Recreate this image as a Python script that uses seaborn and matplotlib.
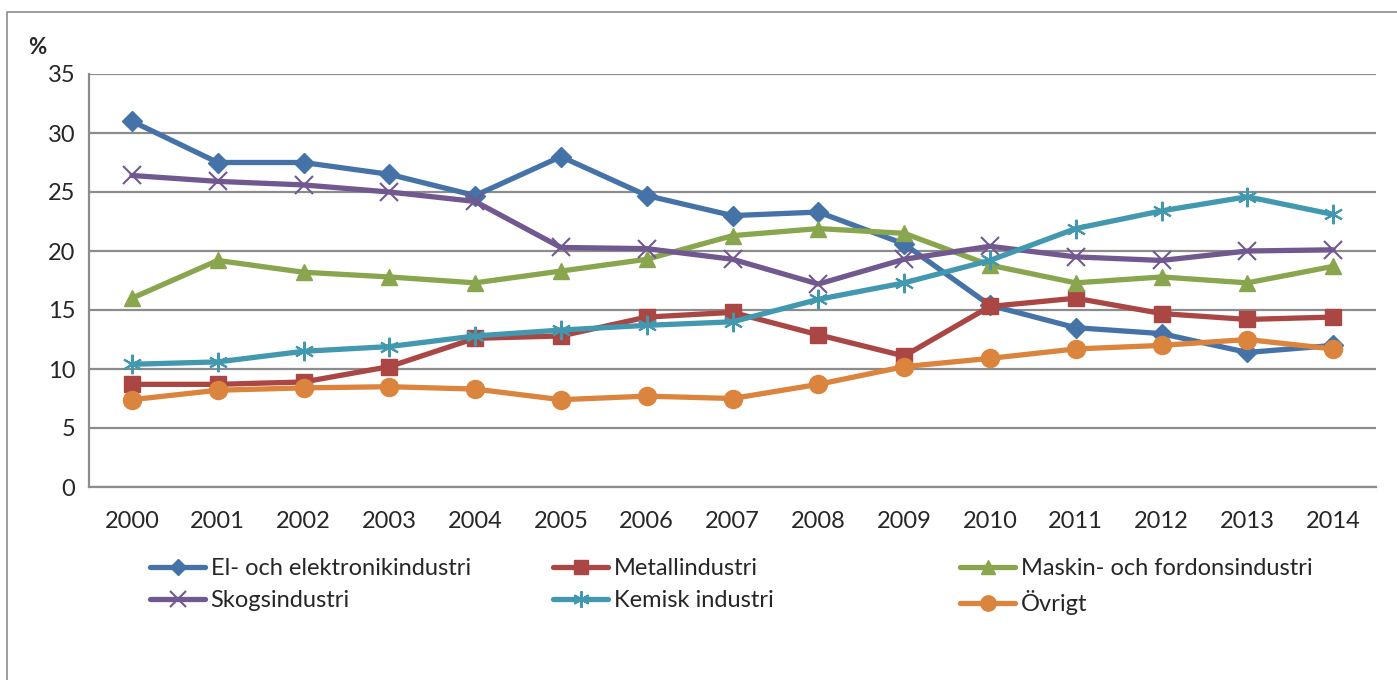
import numpy as np
import pandas as pd
import matplotlib
matplotlib.use("Agg")
import matplotlib.pyplot as plt
from matplotlib.patches import Rectangle
import seaborn as sns

# data (%)
years = [2000, 2001, 2002, 2003, 2004, 2005, 2006, 2007, 2008, 2009, 2010, 2011, 2012, 2013, 2014]
el = [31.0, 27.5, 27.5, 26.5, 24.7, 28.0, 24.7, 23.0, 23.3, 20.6, 15.4, 13.5, 13.0, 11.4, 12.0]
metall = [8.7, 8.7, 8.9, 10.2, 12.6, 12.8, 14.4, 14.8, 12.9, 11.1, 15.3, 16.0, 14.7, 14.2, 14.4]
maskin = [16.0, 19.2, 18.2, 17.8, 17.3, 18.3, 19.3, 21.3, 21.9, 21.5, 18.8, 17.3, 17.8, 17.3, 18.7]
skog = [26.4, 25.9, 25.6, 25.0, 24.2, 20.3, 20.2, 19.3, 17.2, 19.3, 20.4, 19.5, 19.2, 20.0, 20.1]
kemisk = [10.4, 10.6, 11.5, 11.9, 12.8, 13.3, 13.7, 14.0, 15.9, 17.3, 19.2, 21.9, 23.4, 24.6, 23.1]
ovrigt = [7.4, 8.2, 8.4, 8.5, 8.3, 7.4, 7.7, 7.5, 8.7, 10.2, 10.9, 11.7, 12.0, 12.5, 11.7]

names = ["El- och elektronikindustri", "Metallindustri", "Maskin- och fordonsindustri",
         "Skogsindustri", "Kemisk industri", "Övrigt"]
series = [el, metall, maskin, skog, kemisk, ovrigt]
colors = ["#4572A7", "#AA4643", "#89A54E", "#71588F", "#4198AF", "#DB843D"]
markers = ["D", "s", "^", "x", (6, 2, 0), "o"]
msizes = [10, 12, 12, 13, 14, 13]

rows = []
for n, s in zip(names, series):
    for i, v in enumerate(s):
        rows.append({"pos": i, "serie": n, "varde": v})
df = pd.DataFrame(rows)

sns.set_style("white")
plt.rcParams['font.family'] = ['Lato', 'DejaVu Sans']

fig = plt.figure(figsize=(13.97, 6.8), dpi=100)
ax = fig.add_axes([89/1397, 1 - 487/680, (1376 - 89)/1397, (487 - 74)/680])

# chart border like the Excel frame
fig.patches.append(Rectangle((7/1397, -0.1), 1.2, 1 - 12/680 + 0.1, transform=fig.transFigure,
                             fill=False, edgecolor="#8c8c8c", linewidth=1.2))

for n, c, m, ms in zip(names, colors, markers, msizes):
    sub = df[df["serie"] == n]
    sns.lineplot(data=sub, x="pos", y="varde", color=c, marker=m, markersize=ms,
                 markeredgecolor=c, markeredgewidth=1.5 if m in ("x", (6, 2, 0)) else 1,
                 linewidth=3.8, ax=ax, label=n, legend=False)

ax.set_xlim(-0.5, len(years) - 0.5)
ax.set_ylim(0, 35)
ax.set_yticks(np.arange(0, 36, 5))
ax.set_xticks(range(len(years)))
ax.set_xticklabels([str(y) for y in years])
ax.set_xticks(np.arange(-0.5, len(years), 1), minor=True)
ax.tick_params(axis="x", which="major", length=0, labelsize=17, pad=17)
ax.tick_params(axis="x", which="minor", length=7, color="#888888", width=1.5, direction="out")
ax.tick_params(axis="y", length=6, color="#888888", width=1.5, labelsize=17, direction="out", pad=4)
ax.yaxis.grid(True, color="#8c8c8c", linewidth=1.6)
ax.set_axisbelow(True)
ax.set_xlabel("")
ax.set_ylabel("")
for side in ["top", "right"]:
    ax.spines[side].set_visible(False)
for side in ["left", "bottom"]:
    ax.spines[side].set_color("#8c8c8c")
    ax.spines[side].set_linewidth(1.6)

fig.text(28/1397, 1 - 48/680, "%", fontsize=16, fontweight="bold", va="center", ha="left")

# legend in three columns, placed by hand
handles, labels = ax.get_legend_handles_labels()
col_x = [141, 544, 951]
for k in range(3):
    idx = [k, k + 3]
    leg = fig.legend([handles[i] for i in idx], [labels[i] for i in idx],
                     loc="upper left", bbox_to_anchor=(col_x[k]/1397, 1 - 549/680),
                     frameon=False, fontsize=17, handlelength=2.3, handletextpad=0.25,
                     labelspacing=0.45, borderaxespad=0, markerscale=0.85)

fig.savefig("out.png", dpi=100)
